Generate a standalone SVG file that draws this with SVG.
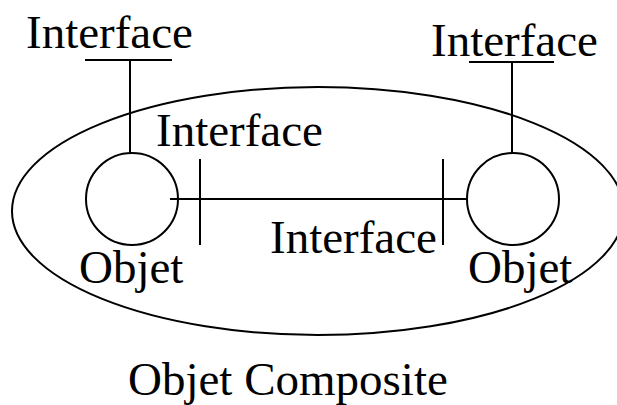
<svg xmlns="http://www.w3.org/2000/svg" width="617" height="405" viewBox="0 0 617 405">
  <style>
    .ln { fill: none; stroke: #000; stroke-width: 2; }
    .lbl { font-family: "Liberation Serif", "Times New Roman", serif; font-size: 47px; fill: #000; }
  </style>
  <rect width="617" height="405" fill="#fff"/>

  <!-- composite boundary -->
  <g id="composite">
    <ellipse class="ln" cx="318" cy="211" rx="306" ry="124"/>
    <text class="lbl" x="128" y="395">Objet Composite</text>
  </g>

  <!-- connectors and interface bars -->
  <g id="connectors">
    <line class="ln" x1="130" y1="60" x2="130" y2="153"/>
    <line class="ln" x1="85" y1="60" x2="172" y2="60"/>
    <line class="ln" x1="512" y1="61" x2="512" y2="153"/>
    <line class="ln" x1="469" y1="62" x2="554" y2="62"/>
    <line class="ln" x1="170" y1="199" x2="468" y2="199"/>
    <line class="ln" x1="200" y1="159" x2="200" y2="245"/>
    <line class="ln" x1="443" y1="159" x2="443" y2="245"/>
  </g>

  <g id="objet-left">
    <circle class="ln" cx="132" cy="199" r="46"/>
    <text class="lbl" x="79" y="283">Objet</text>
  </g>

  <g id="objet-right">
    <circle class="ln" cx="513" cy="199" r="46"/>
    <text class="lbl" x="468" y="283">Objet</text>
  </g>

  <g id="interface-labels">
    <text class="lbl" x="26" y="48">Interface</text>
    <text class="lbl" x="431" y="56">Interface</text>
    <text class="lbl" x="156" y="146">Interface</text>
    <text class="lbl" x="270" y="253">Interface</text>
  </g>
</svg>
